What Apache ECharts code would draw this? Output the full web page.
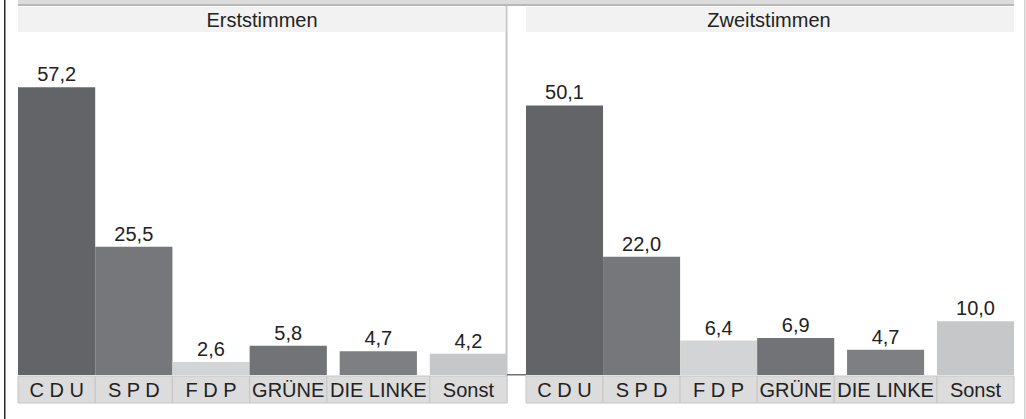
<!DOCTYPE html>
<html>
<head>
<meta charset="utf-8">
<script src="https://cdn.jsdelivr.net/npm/echarts@6/dist/echarts.min.js"></script>
<style>
  html, body { margin: 0; padding: 0; background: #fff; }
  #chart { width: 1026px; height: 419px; }
</style>
</head>
<body>
<div id="chart"></div>
<script>
// data
var parties = ['C D U', 'S P D', 'F D P', 'GRÜNE', 'DIE LINKE', 'Sonst'];
var erststimmen = [57.2, 25.5, 2.6, 5.8, 4.7, 4.2];
var zweitstimmen = [50.1, 22.0, 6.4, 6.9, 4.7, 10.0];
var panelTitles = ['Erststimmen', 'Zweitstimmen'];

// styles
var barColors = ['#636468', '#76777b', '#d3d4d6', '#727377', '#7e7f83', '#c6c7c9'];
var FONT = '"Liberation Sans", Arial, sans-serif';
var textColor = '#222';

// cells get wider when the label needs it (3 units normally)
var ctx = document.createElement('canvas').getContext('2d');
ctx.font = '20px "Liberation Sans"';
var spans = parties.map(function (p) {
  return Math.max(3, Math.ceil(ctx.measureText(p).width / 25));
});
var starts = [];
var total = 0;
spans.forEach(function (s) { starts.push(total); total += s; });

var zeroY = 375;
var panels = [
  { values: erststimmen, left: 18, width: 489, scale: 5.03 },
  { values: zweitstimmen, left: 526, width: 488, scale: 5.38 }
];

var grids = [], xAxes = [], yAxes = [], series = [];

panels.forEach(function (p, i) {
  var h = 60 * p.scale;
  grids.push({ left: p.left, width: p.width, top: zeroY - h, height: h });
  xAxes.push({ gridIndex: i, type: 'value', min: 0, max: total, show: false });
  yAxes.push({ gridIndex: i, type: 'value', min: 0, max: 60, show: false });

  series.push({
    type: 'bar',
    xAxisIndex: i,
    yAxisIndex: i,
    barWidth: 3 * p.width / total,
    data: p.values.map(function (v, j) { return [starts[j] + spans[j] / 2, v]; }),
    itemStyle: {
      color: function (params) { return barColors[params.dataIndex]; }
    },
    label: {
      show: true,
      position: 'top',
      distance: 3,
      fontFamily: FONT,
      fontSize: 20,
      color: textColor,
      formatter: function (params) {
        return params.value[1].toFixed(1).replace('.', ',');
      }
    }
  });

  // label band under the bars
  series.push({
    type: 'custom',
    xAxisIndex: i,
    yAxisIndex: i,
    z: 5,
    clip: false,
    silent: true,
    encode: { x: [0, 1] },
    data: spans.map(function (s, j) { return [starts[j], starts[j] + s]; }),
    renderItem: function (params, api) {
      var a = api.coord([api.value(0), 0]);
      var b = api.coord([api.value(1), 0]);
      var top = a[1] + 1;
      return {
        type: 'group',
        children: [{
          type: 'rect',
          shape: { x: a[0], y: top, width: b[0] - a[0], height: 27 },
          style: { fill: '#dcdcdc', stroke: '#c6c6c6', lineWidth: 1 }
        }, {
          type: 'text',
          style: {
            x: (a[0] + b[0]) / 2,
            y: top + 13.5,
            text: parties[params.dataIndex],
            align: 'center',
            verticalAlign: 'middle',
            font: '20px ' + FONT,
            fill: textColor
          }
        }]
      };
    }
  });
});

var chart = echarts.init(document.getElementById('chart'), null, { renderer: 'svg' });

chart.setOption({
  animation: false,
  backgroundColor: '#fff',
  grid: grids,
  xAxis: xAxes,
  yAxis: yAxes,
  series: series,
  graphic: [
    // frame lines
    { type: 'rect', z: 1, shape: { x: 4, y: 0, width: 1.5, height: 419 }, style: { fill: '#2a2a2a' } },
    { type: 'rect', z: 1, shape: { x: 1024, y: 0, width: 1.5, height: 419 }, style: { fill: '#d0d0d0' } },
    { type: 'rect', z: 1, shape: { x: 18, y: 0, width: 996, height: 4 }, style: { fill: '#dcdcdc' } },
    { type: 'rect', z: 1, shape: { x: 18, y: 4, width: 996, height: 2 }, style: { fill: '#b8b8b8' } },
    { type: 'rect', z: 1, shape: { x: 505.5, y: 6, width: 2, height: 397 }, style: { fill: '#c6c6c6' } },
    { type: 'rect', z: 1, shape: { x: 507, y: 374, width: 19, height: 1.5 }, style: { fill: '#707070' } },
    // panel headers
    { type: 'rect', z: 1, shape: { x: 18, y: 7, width: 487.5, height: 25 }, style: { fill: '#f2f2f2' } },
    { type: 'rect', z: 1, shape: { x: 526, y: 7, width: 488, height: 25 }, style: { fill: '#f2f2f2' } },
    {
      type: 'text', z: 2,
      style: { x: 262, y: 19.5, text: panelTitles[0], align: 'center', verticalAlign: 'middle', font: '20px ' + FONT, fill: textColor }
    },
    {
      type: 'text', z: 2,
      style: { x: 769, y: 19.5, text: panelTitles[1], align: 'center', verticalAlign: 'middle', font: '20px ' + FONT, fill: textColor }
    }
  ]
});
</script>
</body>
</html>
